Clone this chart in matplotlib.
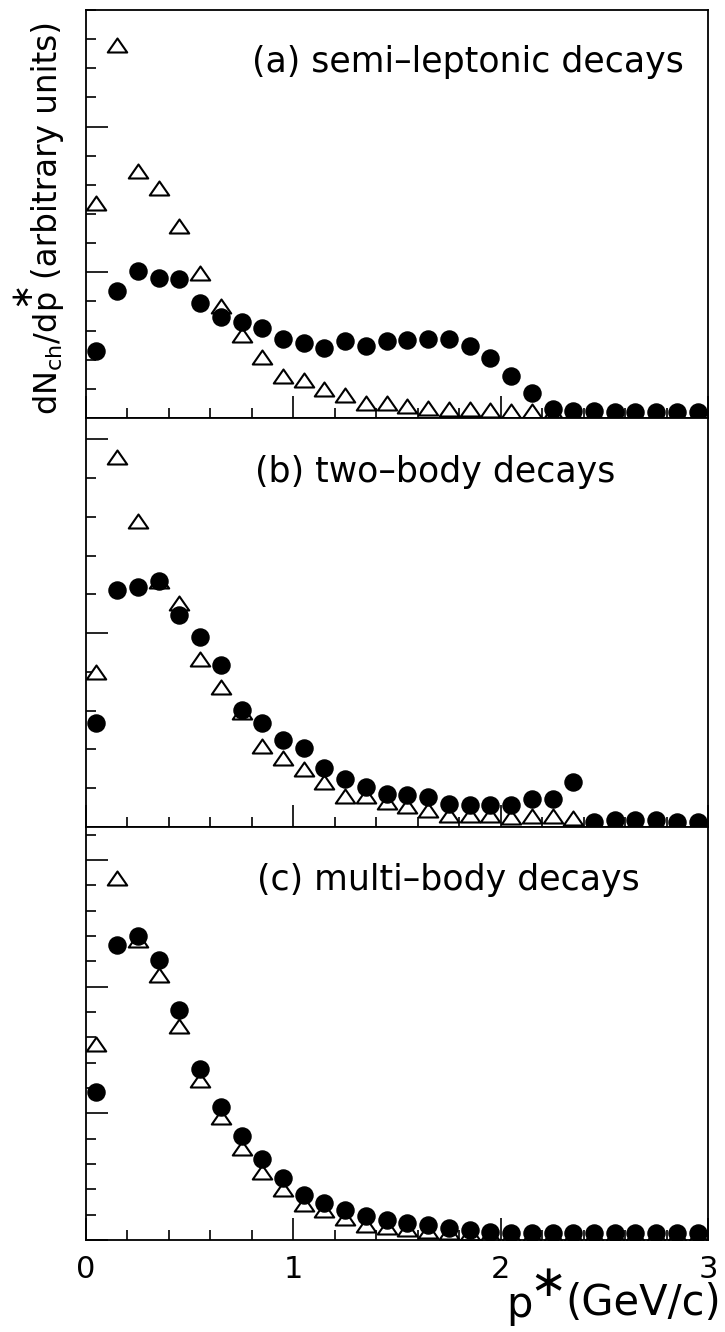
import matplotlib
matplotlib.use("Agg")
import matplotlib.pyplot as plt
from matplotlib.path import Path
from matplotlib.ticker import MultipleLocator, NullFormatter, FixedLocator

# bin centres p* (GeV/c)
p_star = [0.05, 0.15, 0.25, 0.35, 0.45, 0.55, 0.65, 0.75, 0.85, 0.95,
          1.05, 1.15, 1.25, 1.35, 1.45, 1.55, 1.65, 1.75, 1.85, 1.95,
          2.05, 2.15, 2.25, 2.35, 2.45, 2.55, 2.65, 2.75, 2.85, 2.95]

# (a) semi-leptonic
semi_circ = [2.30, 4.37, 5.06, 4.79, 4.77, 3.94, 3.45, 3.30, 3.10, 2.70,
             2.59, 2.41, 2.64, 2.47, 2.64, 2.68, 2.70, 2.72, 2.47, 2.07,
             1.44, 0.86, 0.30, 0.25, 0.23, 0.22, 0.22, 0.22, 0.22, 0.22]
semi_tri = [7.39, 12.8, 8.48, 7.90, 6.59, 4.98, 3.85, 2.85, 2.10, 1.44,
            1.30, 1.01, 0.80, 0.50, 0.52, 0.42, 0.35, 0.32, 0.30, 0.27,
            0.25, 0.25, 0.22, 0.15, 0.15, 0.15, 0.15, 0.15, 0.15, 0.15]

# (b) two-body
two_circ = [2.67, 6.12, 6.20, 6.35, 5.47, 4.91, 4.18, 3.02, 2.67, 2.24,
            2.03, 1.53, 1.25, 1.03, 0.86, 0.82, 0.78, 0.60, 0.56, 0.56,
            0.56, 0.73, 0.73, 1.16, 0.13, 0.17, 0.17, 0.17, 0.13, 0.13]
two_tri = [4.00, 9.55, 7.90, 6.34, 5.78, 4.34, 3.60, 2.96, 2.10, 1.79,
           1.49, 1.16, 0.80, 0.80, 0.65, 0.55, 0.45, 0.32, 0.30, 0.30,
           0.25, 0.28, 0.28, 0.22, 0.10, 0.10, 0.10, 0.10, 0.10, 0.10]

# (c) multi-body
multi_circ = [5.83, 11.66, 11.99, 11.06, 9.07, 6.75, 5.23, 4.10, 3.18, 2.45,
              1.79, 1.48, 1.19, 0.93, 0.79, 0.66, 0.60, 0.46, 0.40, 0.33,
              0.28, 0.28, 0.28, 0.28, 0.28, 0.28, 0.28, 0.28, 0.28, 0.28]
multi_tri = [7.75, 14.28, 11.85, 10.44, 8.45, 6.33, 4.87, 3.62, 2.69, 2.03,
             1.43, 1.17, 0.86, 0.60, 0.50, 0.42, 0.36, 0.30, 0.27, 0.24,
             0.20, 0.20, 0.20, 0.20, 0.20, 0.20, 0.20, 0.20, 0.20, 0.20]

panel_labels = ["(a) semi\u2013leptonic decays", "(b) two\u2013body decays",
                "(c) multi\u2013body decays"]
y_tops = [14.0, 10.55, 16.3]
x_ticklabels = ["0", "1", "2", "3"]

W, H = 725, 1332
fig = plt.figure(figsize=(W / 100, H / 100), dpi=100)

tri = Path([(-1.0, -0.72), (1.0, -0.72), (0.0, 0.72), (-1.0, -0.72)],
           [Path.MOVETO, Path.LINETO, Path.LINETO, Path.CLOSEPOLY])

left = 86 / W
width = (708 - 86) / W
edges = [(10, 418), (418, 827), (827, 1240)]
series = [(semi_circ, semi_tri), (two_circ, two_tri), (multi_circ, multi_tri)]
label_x = [252, 255, 257]
label_y = [62, 472, 880]


def fx(px):
    return px / W


def fy(py):
    return 1 - py / H


for i, ((top, bot), (circ, trv)) in enumerate(zip(edges, series)):
    ax = fig.add_axes([left, 1 - bot / H, width, (bot - top) / H])
    ax.plot(p_star, trv, linestyle="none", marker=tri, markersize=14,
            markerfacecolor="white", markeredgecolor="black", markeredgewidth=1.5)
    ax.plot(p_star, circ, linestyle="none", marker="o", markersize=12.3,
            markerfacecolor="black", markeredgecolor="black", markeredgewidth=1.0)
    ax.set_xlim(0, 3)
    ax.set_ylim(0, y_tops[i])
    for s in ax.spines.values():
        s.set_linewidth(1.3)
    ax.yaxis.set_major_locator(MultipleLocator(5))
    ax.yaxis.set_minor_locator(MultipleLocator(1))
    ax.yaxis.set_major_formatter(NullFormatter())
    ax.xaxis.set_major_locator(FixedLocator([0, 1, 2, 3]))
    ax.xaxis.set_minor_locator(MultipleLocator(0.2))
    ax.tick_params(axis="both", which="both", direction="in", top=False, right=False,
                   width=1.2)
    ax.tick_params(axis="y", which="major", length=16)
    ax.tick_params(axis="y", which="minor", length=7)
    ax.tick_params(axis="x", which="major", length=16)
    ax.tick_params(axis="x", which="minor", length=7)
    if i < 2:
        ax.xaxis.set_major_formatter(NullFormatter())
    else:
        ax.set_xticklabels(x_ticklabels, fontsize=22)
        ax.tick_params(axis="x", which="major", pad=11)
    fig.text(fx(label_x[i]), fy(label_y[i]), panel_labels[i], fontsize=25,
             ha="left", va="center")

# y-axis label (rotated), star drawn large as in the original
fig.text(fx(48), fy(415), r"dN$_{\mathregular{ch}}$/dp", rotation=90, fontsize=23,
         ha="center", va="bottom")
fig.text(fx(21), fy(293), "\u2217", rotation=90, fontsize=22, ha="center", va="center")
fig.text(fx(48), fy(279), "(arbitrary units)", rotation=90, fontsize=23.5,
         ha="center", va="bottom")

# x-axis label
fig.text(fx(721), fy(1315), "(GeV/c)", fontsize=30, ha="right", va="baseline")
fig.text(fx(519), fy(1317), "p", fontsize=30, ha="center", va="baseline")
fig.text(fx(548), fy(1283), "\u2217", fontsize=32, ha="center", va="center")

fig.savefig("out.png", dpi=100)
